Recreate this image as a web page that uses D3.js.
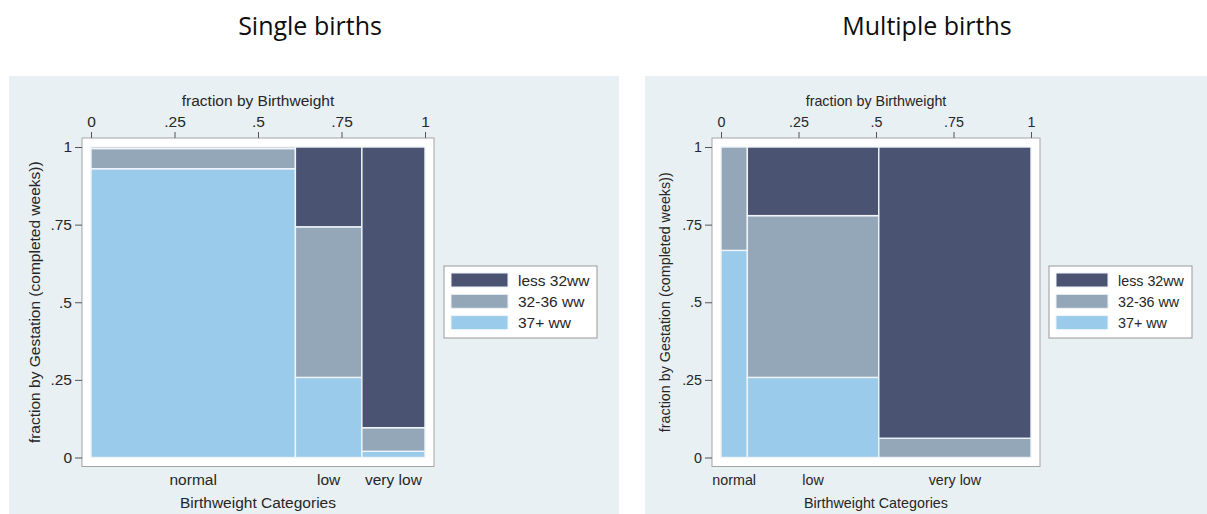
<!DOCTYPE html>
<html>
<head>
<meta charset="utf-8">
<script src="https://cdn.jsdelivr.net/npm/d3@7"></script>
<style>
  html, body { margin: 0; padding: 0; background: #ffffff; }
  svg { display: block; }
</style>
</head>
<body>
<svg id="chart" width="1207" height="514"></svg>
<script>
// Birthweight categories (x segments) and gestation groups (stacked cells)
const bwCategories = ["normal", "low", "very low"];
const gestGroups = ["less 32ww", "32-36 ww", "37+ ww"];
const gestColors = ["#4a5472", "#94a7b8", "#9acbeb"];
const tickValues = [0, 0.25, 0.5, 0.75, 1];
const tickLabels = ["0", ".25", ".5", ".75", "1"];

// Single births: share of each birthweight category, then gestation fractions within it
const singleShare = [0.612, 0.199, 0.189];
const singleLess32 = [0.005, 0.257, 0.904];
const single3236 = [0.065, 0.485, 0.076];
const single37 = [0.930, 0.258, 0.020];

// Multiple births
const multipleShare = [0.085, 0.424, 0.491];
const multipleLess32 = [0.000, 0.221, 0.938];
const multiple3236 = [0.333, 0.521, 0.062];
const multiple37 = [0.667, 0.258, 0.000];

const svg = d3.select("#chart");
const axisFont = "'Liberation Sans', Arial, sans-serif";
const textColor = "#262626";

function drawPanel(cfg) {
  const { bgX, bgW, x0, x1, title, titleX, share, less32, mid, full, legendX, legendW, fs } = cfg;
  const yTop = 147, yBot = 457.5;
  const x = d3.scaleLinear().domain([0, 1]).range([x0, x1]);
  const y = d3.scaleLinear().domain([0, 1]).range([yBot, yTop]);
  const pad = 9;
  const fpx = fs + "px";

  // panel title
  svg.append("text")
    .attr("x", titleX).attr("y", 35)
    .attr("text-anchor", "middle")
    .style("font-family", "'Open Sans', Lato, sans-serif")
    .style("font-size", "25px")
    .style("fill", "#0d0d0d")
    .text(title);

  const g = svg.append("g");

  // graph region background
  g.append("rect")
    .attr("x", bgX).attr("y", 76).attr("width", bgW).attr("height", 514 - 76)
    .attr("fill", "#e8f0f3");

  // plot region
  g.append("rect")
    .attr("x", x0 - pad).attr("y", yTop - pad)
    .attr("width", (x1 - x0) + 2 * pad).attr("height", (yBot - yTop) + 2 * pad)
    .attr("fill", "#ffffff")
    .attr("stroke", "#a3a3a3").attr("stroke-width", 1);

  // mosaic cells
  let cum = 0;
  const cells = [];
  share.forEach((w, i) => {
    const left = cum;
    cum += w;
    const parts = [full[i], mid[i], less32[i]]; // stacked from the bottom
    const colorIdx = [2, 1, 0];
    let base = 0;
    parts.forEach((p, k) => {
      if (p > 0) cells.push({ x0: left, x1: left + w, y0: base, y1: base + p, c: gestColors[colorIdx[k]] });
      base += p;
    });
  });
  g.selectAll("rect.cell").data(cells).join("rect")
    .attr("class", "cell")
    .attr("x", d => x(d.x0))
    .attr("y", d => y(d.y1))
    .attr("width", d => x(d.x1) - x(d.x0))
    .attr("height", d => y(d.y0) - y(d.y1))
    .attr("fill", d => d.c)
    .attr("stroke", "#eef4f8").attr("stroke-width", 1.4);

  // left axis
  const yAxis = d3.axisLeft(y).tickValues(tickValues)
    .tickFormat((d, i) => tickLabels[i]).tickSize(7).tickPadding(3);
  const ya = g.append("g").attr("transform", `translate(${x0 - pad},0)`).call(yAxis);
  ya.select(".domain").remove();
  ya.selectAll(".tick line").attr("stroke", "#555");
  ya.selectAll(".tick text").style("font-family", axisFont).style("font-size", fpx).style("fill", textColor);

  // top axis
  const xAxis = d3.axisTop(x).tickValues(tickValues)
    .tickFormat((d, i) => tickLabels[i]).tickSize(6).tickPadding(5);
  const xa = g.append("g").attr("transform", `translate(0,${yTop - pad})`).call(xAxis);
  xa.select(".domain").remove();
  xa.selectAll(".tick line").attr("stroke", "#555");
  xa.selectAll(".tick text").style("font-family", axisFont).style("font-size", fpx).style("fill", textColor);

  // axis titles
  const midX = (x0 + x1) / 2;
  g.append("text").attr("x", midX).attr("y", 106).attr("text-anchor", "middle")
    .style("font-family", axisFont).style("font-size", fpx).style("fill", textColor)
    .text("fraction by Birthweight");
  g.append("text")
    .attr("transform", `translate(${x0 - 51},${(yTop + yBot) / 2}) rotate(-90)`)
    .attr("text-anchor", "middle")
    .style("font-family", axisFont).style("font-size", fpx).style("fill", textColor)
    .text("fraction by Gestation (completed weeks))");
  g.append("text").attr("x", midX).attr("y", 508).attr("text-anchor", "middle")
    .style("font-family", axisFont).style("font-size", fpx).style("fill", textColor)
    .text("Birthweight Categories");

  // category labels under each segment
  let c2 = 0;
  share.forEach((w, i) => {
    const cx = x(c2 + w / 2);
    c2 += w;
    g.append("text").attr("x", cx).attr("y", 485).attr("text-anchor", "middle")
      .style("font-family", axisFont).style("font-size", fpx).style("fill", textColor)
      .text(bwCategories[i]);
  });

  // legend
  const lg = g.append("g").attr("transform", `translate(${legendX},266)`);
  lg.append("rect").attr("x", 0).attr("y", 0).attr("width", legendW).attr("height", 72)
    .attr("fill", "#ffffff").attr("stroke", "#999").attr("stroke-width", 1);
  const swW = legendW > 150 ? 57 : 52;
  gestGroups.forEach((name, i) => {
    lg.append("rect").attr("x", 7).attr("y", 7 + i * 21.3).attr("width", swW).attr("height", 14)
      .attr("fill", gestColors[i]).attr("stroke", "#eef4f8").attr("stroke-width", 1);
    lg.append("text").attr("x", swW + 17).attr("y", 19.5 + i * 21.3)
      .style("font-family", axisFont).style("font-size", fpx).style("fill", textColor)
      .text(name);
  });
}

drawPanel({
  bgX: 9, bgW: 610, x0: 91, x1: 425, title: "Single births", titleX: 310,
  share: singleShare, less32: singleLess32, mid: single3236, full: single37,
  legendX: 444, legendW: 153, fs: 15.5
});

drawPanel({
  bgX: 645, bgW: 562, x0: 721, x1: 1031, title: "Multiple births", titleX: 927,
  share: multipleShare, less32: multipleLess32, mid: multiple3236, full: multiple37,
  legendX: 1049, legendW: 143, fs: 14.3
});
</script>
</body>
</html>
